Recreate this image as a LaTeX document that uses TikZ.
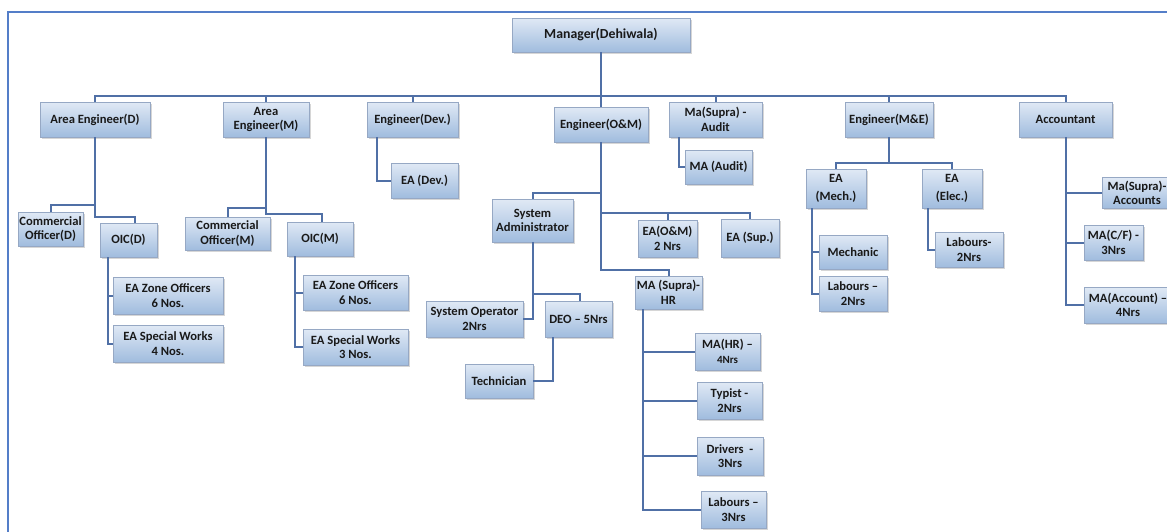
\documentclass[tikz,border=0pt]{standalone}
\usepackage{fontspec}
\setmainfont{Carlito}
\usetikzlibrary{shadows}
\definecolor{boxtop}{RGB}{224,233,245}
\definecolor{boxbot}{RGB}{160,188,222}
\definecolor{boxedge}{RGB}{150,168,196}
\definecolor{link}{RGB}{80,112,166}
\definecolor{framec}{RGB}{84,126,200}
\definecolor{ink}{RGB}{25,25,25}
\tikzset{
  bx/.style={rectangle, draw=boxedge, line width=0.8pt, top color=boxtop, bottom color=boxbot,
    drop shadow={shadow xshift=1.8pt, shadow yshift=-1.8pt, opacity=0.35, fill=black!45},
    align=center, inner sep=1pt, text=ink,
    font=\fontsize{12.6}{14.5}\selectfont\bfseries},
  wire/.style={draw=link, line width=2pt},
  framel/.style={draw=framec, line width=1.6pt}
}
\begin{document}
\begin{tikzpicture}[x=1pt,y=-1pt]
\useasboundingbox (0,0) rectangle (1167,531);
\clip (0,0) rectangle (1167,531);
\fill[white] (0,0) rectangle (1167,531);
% outer frame
\draw[framel] (8,560) -- (8,12) -- (1200,12);

% boxes
\node[bx, minimum width=178pt, minimum height=34pt, font=\fontsize{13.8}{15}\selectfont\bfseries] (mgr) at (601,35) {Manager(Dehiwala)};
\node[bx, minimum width=110pt, minimum height=35pt] (aed) at (95,119.5) {Area Engineer(D)};
\node[bx, minimum width=86pt, minimum height=35pt] (aem) at (266,119.5) {Area\\Engineer(M)};
\node[bx, minimum width=91pt, minimum height=35pt] (edev) at (412.5,119.5) {Engineer(Dev.)};
\node[bx, minimum width=94pt, minimum height=35pt] (eom) at (601,124.5) {Engineer(O\&M)};
\node[bx, minimum width=93pt, minimum height=35pt] (msa) at (715.5,119.5) {Ma(Supra) -\\Audit};
\node[bx, minimum width=67pt, minimum height=34pt] (maa) at (718.5,167) {MA (Audit)};
\node[bx, minimum width=88pt, minimum height=35pt] (eme) at (889,119.5) {Engineer(M\&E)};
\node[bx, minimum width=93pt, minimum height=35pt] (acc) at (1065.5,119.5) {Accountant};

\node[bx, minimum width=65pt, minimum height=34pt] (cod) at (50.5,229) {Commercial\\Officer(D)};
\node[bx, minimum width=57pt, minimum height=34pt] (oicd) at (128.5,240) {OIC(D)};
\node[bx, minimum width=110pt, minimum height=37pt] (ezd) at (168,295.5) {EA Zone Officers\\6 Nos.};
\node[bx, minimum width=110pt, minimum height=37pt] (esd) at (168,343.5) {EA Special Works\\4 Nos.};
\node[bx, minimum width=85pt, minimum height=33pt] (com) at (227.5,233.5) {Commercial\\Officer(M)};
\node[bx, minimum width=66pt, minimum height=34pt] (oicm) at (320,239) {OIC(M)};
\node[bx, minimum width=105pt, minimum height=35pt] (ezm) at (355.5,292.5) {EA Zone Officers\\6 Nos.};
\node[bx, minimum width=105pt, minimum height=36pt] (esm) at (355.5,347) {EA Special Works\\3 Nos.};
\node[bx, minimum width=67pt, minimum height=35pt] (eadev) at (424.5,180.5) {EA (Dev.)};

\node[bx, minimum width=81pt, minimum height=43pt] (sysad) at (532.5,220.5) {System\\Administrator};
\node[bx, minimum width=59pt, minimum height=37pt] (eaom) at (667.5,238.5) {EA(O\&M)\\2 Nrs};
\node[bx, minimum width=58pt, minimum height=38pt] (easup) at (750,238) {EA (Sup.)};
\node[bx, minimum width=67pt, minimum height=33pt] (mahr) at (668.5,292.5) {MA (Supra)-\\HR};
\node[bx, minimum width=97pt, minimum height=36pt] (sysop) at (474.5,319) {System Operator\\2Nrs};
\node[bx, minimum width=67pt, minimum height=36pt] (deo) at (578.5,319) {DEO – 5Nrs};
\node[bx, minimum width=68pt, minimum height=34pt] (tech) at (499,381) {Technician};
\node[bx, minimum width=65pt, minimum height=37pt] (mhr4) at (727.5,351.5) {MA(HR) –\\{\fontsize{11}{13}\selectfont 4Nrs}};
\node[bx, minimum width=65pt, minimum height=37pt] (typ) at (729.5,400.5) {Typist -\\2Nrs};
\node[bx, minimum width=66pt, minimum height=38pt] (drv) at (730,456) {Drivers\ \ -\\3Nrs};
\node[bx, minimum width=65pt, minimum height=37pt] (lab3) at (733.5,509.5) {Labours –\\3Nrs};

\node[bx, minimum width=60pt, minimum height=39pt, font=\fontsize{12.6}{18}\selectfont\bfseries] (eamech) at (836,188.5) {EA\\(Mech.)};
\node[bx, minimum width=60pt, minimum height=39pt, font=\fontsize{12.6}{18}\selectfont\bfseries] (eaelec) at (952,188.5) {EA\\(Elec.)};
\node[bx, minimum width=68pt, minimum height=34pt] (mech) at (853,252) {Mechanic};
\node[bx, minimum width=68pt, minimum height=35pt] (lab2m) at (853,293.5) {Labours –\\2Nrs};
\node[bx, minimum width=68pt, minimum height=35pt] (lab2e) at (969,249.5) {Labours-\\2Nrs};

\node[bx, minimum width=70pt, minimum height=31pt] (msacc) at (1137,193) {Ma(Supra)-\\Accounts};
\node[bx, minimum width=59pt, minimum height=35pt] (mcf) at (1113.5,242.5) {MA(C/F) -\\3Nrs};
\node[bx, minimum width=88pt, minimum height=36pt] (macc) at (1128,305) {MA(Account) –\\4Nrs};

% top level
\draw[wire] (mgr.south) -- (eom.north);
\draw[wire] (aed.north) -- (aed.north |- 0,96) -- (acc.north |- 0,96) -- (acc.north);
\draw[wire] (aem.north) -- (aem.north |- 0,96);
\draw[wire] (edev.north) -- (edev.north |- 0,96);
\draw[wire] (msa.north) -- (msa.north |- 0,96);
\draw[wire] (eme.north) -- (eme.north |- 0,96);

% Area Engineer(D)
\draw[wire] (aed.south) -- (aed.south |- 0,217) -| ([xshift=6.5pt]oicd.north);
\draw[wire] (aed.south |- 0,205) -| (cod.north);
\draw[wire] ([xshift=-20.5pt]oicd.south) |- (esd.west);
\draw[wire] (ezd.west) -- ++(-5,0);

% Area Engineer(M)
\draw[wire] (aem.south) -- (aem.south |- 0,214) -| ([xshift=2pt]oicm.north);
\draw[wire] (aem.south |- 0,208) -| (com.north);
\draw[wire] ([xshift=-25pt]oicm.south) |- (esm.west);
\draw[wire] (ezm.west) -- ++(-8,0);

% Engineer(Dev.)
\draw[wire] ([xshift=-35.5pt]edev.south) |- (eadev.west);

% Engineer(O&M)
\draw[wire] (eom.south) -- (eom.south |- 0,270) -| (mahr.north);
\draw[wire] (eom.south |- 0,193) -| (sysad.north);
\draw[wire] (eom.south |- 0,213) -| (easup.north);
\draw[wire] (eaom.north) -- (eaom.north |- 0,213);

% System Administrator
\draw[wire] (sysad.south) |- (sysop.east);
\draw[wire] (sysad.south |- 0,294) -| ([xshift=1.5pt]deo.north);
\draw[wire] ([xshift=-25.5pt]deo.south) |- (tech.east);

% MA (Supra)-HR
\draw[wire] ([xshift=-25.5pt]mahr.south) |- (lab3.west);
\draw[wire] (mhr4.west) -- ++(-52,0);
\draw[wire] (typ.west) -- ++(-54,0);
\draw[wire] (drv.west) -- ++(-54,0);

% Ma(Supra) - Audit
\draw[wire] ([xshift=-36.5pt]msa.south) |- (maa.west);

% Engineer(M&E)
\draw[wire] (eme.south) -- (eme.south |- 0,163);
\draw[wire] (eamech.north) |- (eme.south |- 0,163) -| (eaelec.north);
\draw[wire] ([xshift=-24pt]eamech.south) |- (lab2m.west);
\draw[wire] (mech.west) -- ++(-7,0);
\draw[wire] ([xshift=-24pt]eaelec.south) |- (lab2e.west);

% Accountant
\draw[wire] (acc.south) |- (macc.west);
\draw[wire] (msacc.west) -- (acc.south |- msacc.west);
\draw[wire] (mcf.west) -- (acc.south |- mcf.west);
\end{tikzpicture}
\end{document}
